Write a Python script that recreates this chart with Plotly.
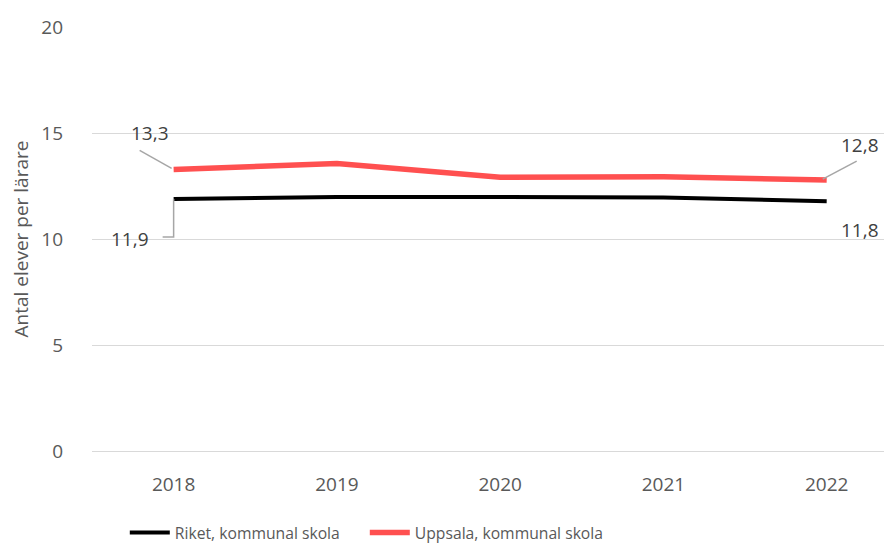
import plotly.graph_objects as go

years = ["2018", "2019", "2020", "2021", "2022"]
riket = [11.9, 12.0, 12.0, 11.97, 11.8]
uppsala = [13.3, 13.58, 12.93, 12.95, 12.8]
riket_name = "Riket, kommunal skola"
uppsala_name = "Uppsala, kommunal skola"
y_ticks = [0, 5, 10, 15, 20]
y_title = "Antal elever per lärare"

FONT = "Open Sans"
GREY = "#595959"

fig = go.Figure()
fig.add_trace(go.Scatter(x=years, y=riket, mode="lines", name=riket_name,
                         line=dict(color="#000000", width=4), legend="legend"))
fig.add_trace(go.Scatter(x=years, y=uppsala, mode="lines", name=uppsala_name,
                         line=dict(color="#FF5050", width=5.5), legend="legend2"))

def label(xi, yv, text, xs, ys):
    fig.add_annotation(x=xi, y=yv, xref="x", yref="y", text=text, showarrow=False,
                       xshift=xs, yshift=ys,
                       font=dict(family=FONT, size=19, color="#404040"))

last = len(years) - 1
label(0, uppsala[0], "13,3", -24, 36)
label(0, riket[0], "11,9", -44, -40)
label(last, uppsala[-1], "12,8", 33, 35)
label(last, riket[-1], "11,8", 33, -29)

lc = dict(color="#A6A6A6", width=1.5)
def leader(xi, yv, path):
    fig.add_shape(type="path", xref="x", yref="y", xsizemode="pixel", ysizemode="pixel",
                  xanchor=xi, yanchor=yv, path=path, line=lc)

leader(0, uppsala[0], "M-34,19 L-2,1")
leader(0, riket[0], "M0,0 L0,-38 L-11,-38")
leader(last, uppsala[-1], "M30,19 L-4,1")

leg_common = dict(orientation="h", xanchor="left", y=-0.193, yanchor="middle",
                  font=dict(family=FONT, size=15.7, color=GREY), itemwidth=40,
                  bgcolor="rgba(0,0,0,0)")

fig.update_layout(
    width=884, height=537,
    margin=dict(l=84, r=0, t=19, b=94, autoexpand=False),
    paper_bgcolor="white", plot_bgcolor="white",
    font=dict(family=FONT, color=GREY, size=18),
    showlegend=True,
    legend=dict(x=0.041, **leg_common),
    legend2=dict(x=0.341, **leg_common),
    xaxis=dict(type="category", range=[-0.5, 4.4], showgrid=False, zeroline=False,
               showline=False, ticks="", automargin=False, ticklabelstandoff=20,
               tickfont=dict(size=19, color=GREY)),
    yaxis=dict(range=[0, 20.03], tickvals=y_ticks, showgrid=True, gridcolor="#D9D9D9",
               gridwidth=1, zeroline=True, zerolinecolor="#D9D9D9", zerolinewidth=1,
               showline=False, ticks="", automargin=False,
               ticklabelstandoff=28,
               tickfont=dict(size=19, color=GREY),
               title=dict(text=y_title, font=dict(size=19, color=GREY), standoff=22)),
)

fig.write_html("out.html")
